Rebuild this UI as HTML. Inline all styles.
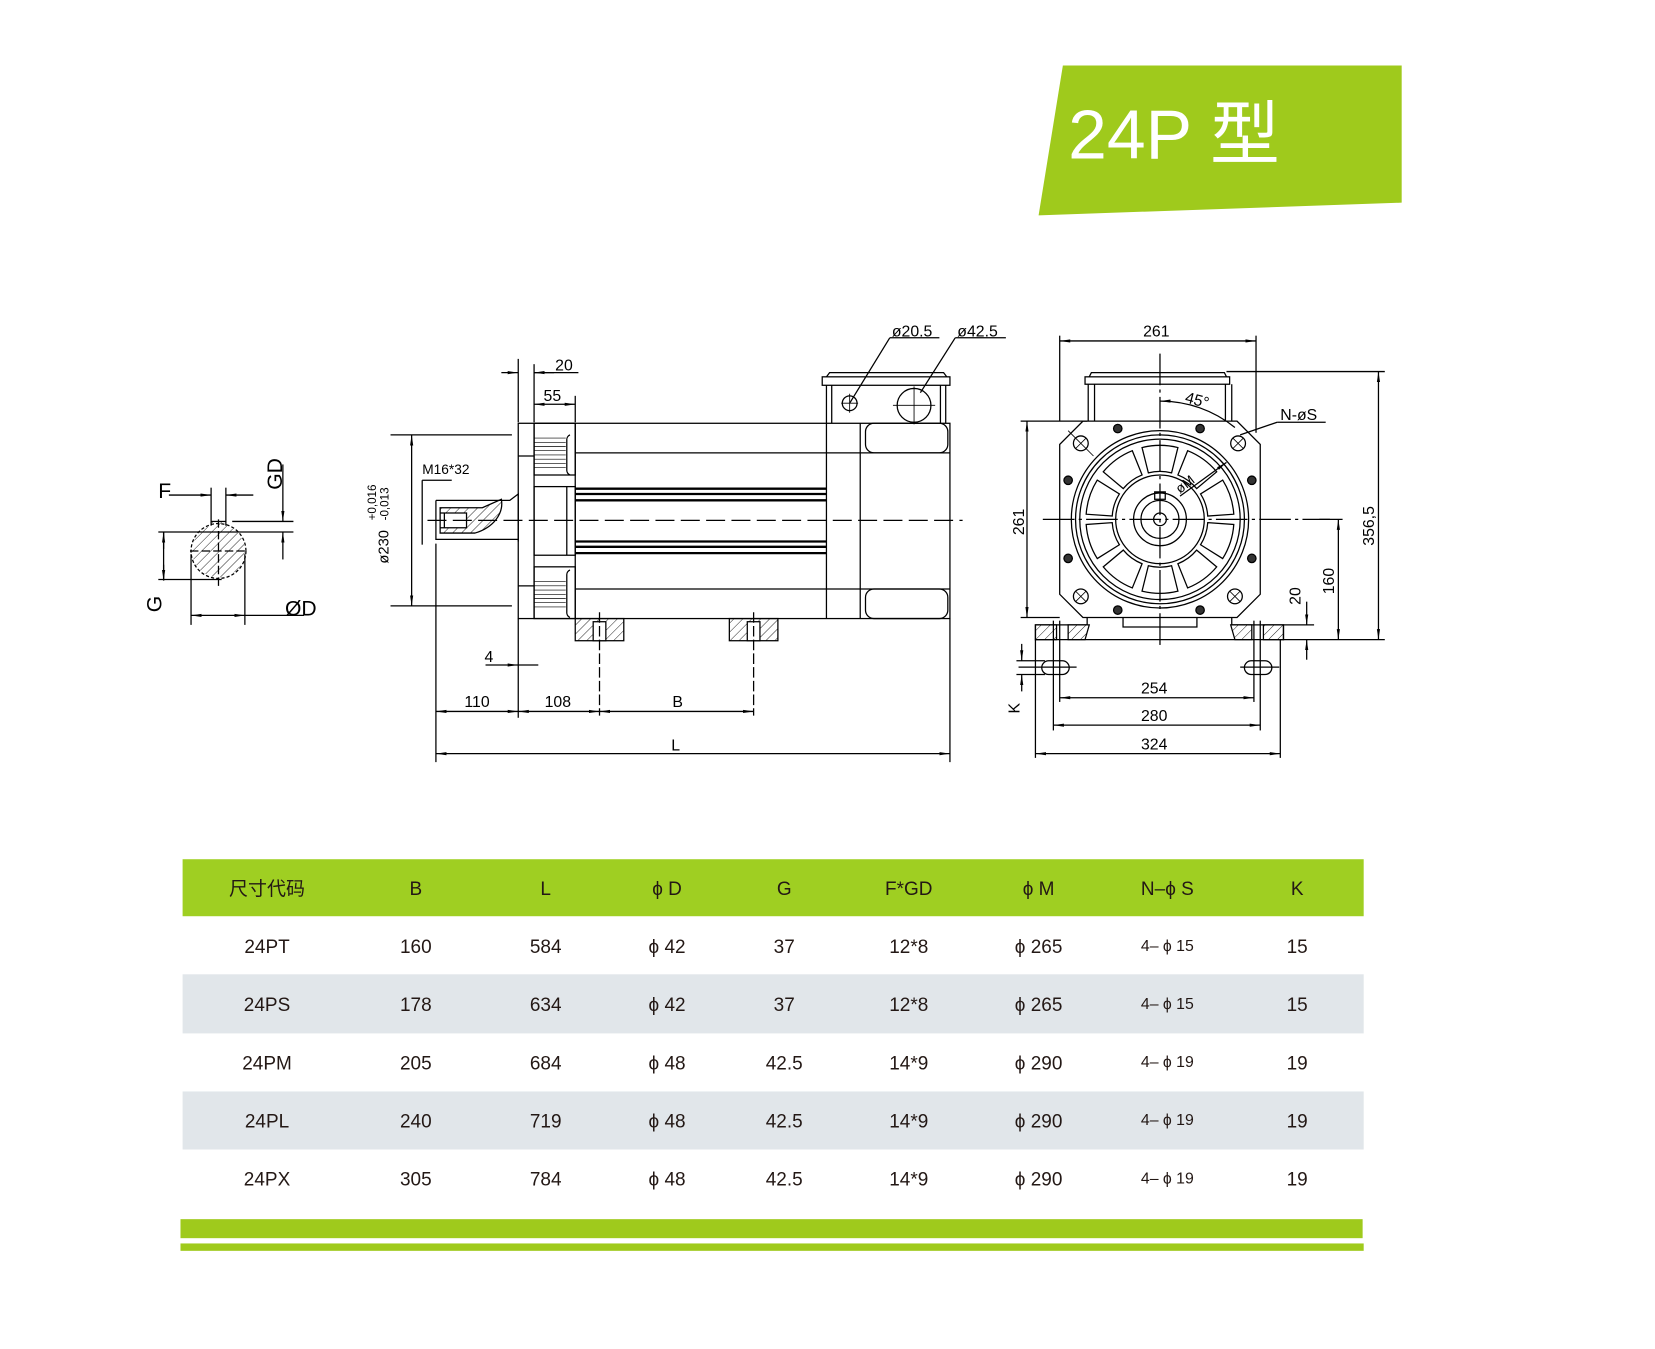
<!DOCTYPE html>
<html><head><meta charset="utf-8"><style>
html,body{margin:0;padding:0;background:#fff;}
svg{display:block;}
text{font-family:"Liberation Sans","Noto Sans CJK SC",sans-serif;}
.d{font-family:"DejaVu Sans Mono","Liberation Mono",monospace;font-size:15px;fill:#000;}
.t{font-size:18px;fill:#231815;text-anchor:middle;}
</style></head><body>
<svg width="1655" height="1349" viewBox="0 0 1568 1278" preserveAspectRatio="none" xmlns="http://www.w3.org/2000/svg">
<defs>
<pattern id="h" width="6" height="6" patternUnits="userSpaceOnUse" patternTransform="rotate(45)"><line x1="0" y1="0" x2="0" y2="6" stroke="#000" stroke-width="0.8"/></pattern>
<marker id="a" viewBox="0 0 10 4" refX="10" refY="2" markerWidth="10" markerHeight="4" orient="auto-start-reverse" markerUnits="userSpaceOnUse"><path d="M0,0.5 L10,2 L0,3.5z" fill="#000"/></marker>
</defs>
<rect width="1568" height="1278" fill="#fff"/>
<!-- title -->
<polygon points="1007,62 1328,62 1328,192 984,204" fill="#9fca1c"/>
<text x="1012" y="150" font-size="66" fill="#fff" font-family="'DejaVu Sans','Liberation Sans','Noto Sans CJK SC',sans-serif">24P 型</text>

<g fill="none" stroke="#000" stroke-width="1.2">
<!-- ===== left shaft section ===== -->
<circle cx="207" cy="522" r="26" stroke-dasharray="3,2"/>
<path d="M182,522 A25,25 0 0 0 232,522 A25,25 0 0 0 214,498 L214,494 L200,494 L200,498 A25,25 0 0 0 182,522z" fill="url(#h)" stroke="none"/>
<line x1="200" y1="462" x2="200" y2="498"/><line x1="214" y1="462" x2="214" y2="498"/>
<line x1="200" y1="494" x2="214" y2="494"/>
<line x1="160" y1="469" x2="200" y2="469" marker-end="url(#a)"/><line x1="240" y1="469" x2="214" y2="469" marker-end="url(#a)"/>
<line x1="220" y1="494" x2="278" y2="494"/><line x1="150" y1="504" x2="278" y2="504"/>
<line x1="268" y1="440" x2="268" y2="494" marker-end="url(#a)"/><line x1="268" y1="530" x2="268" y2="504" marker-end="url(#a)"/>
<line x1="155" y1="504" x2="155" y2="550"/><line x1="155" y1="504" x2="155" y2="520" marker-start="url(#a)"/><line x1="155" y1="535" x2="155" y2="550" marker-end="url(#a)"/>
<line x1="150" y1="549" x2="210" y2="549"/>
<line x1="180" y1="522" x2="235" y2="522" stroke-dasharray="8,3"/><line x1="207" y1="492" x2="207" y2="555" stroke-dasharray="8,3"/>
<line x1="181" y1="525" x2="181" y2="592"/><line x1="232" y1="525" x2="232" y2="592"/>
<line x1="181" y1="583" x2="232" y2="583" marker-start="url(#a)" marker-end="url(#a)"/><line x1="232" y1="583" x2="288" y2="583"/>

<!-- ===== side view ===== -->
<rect x="491" y="401" width="409" height="185"/>
<line x1="506" y1="401" x2="506" y2="586"/><line x1="545" y1="401" x2="545" y2="586"/>
<line x1="783" y1="401" x2="783" y2="586"/><line x1="815" y1="401" x2="815" y2="586"/>
<line x1="491" y1="432" x2="506" y2="432"/><line x1="491" y1="555" x2="506" y2="555"/>
<line x1="545" y1="429" x2="900" y2="429"/><line x1="545" y1="558" x2="900" y2="558"/>
<rect x="506" y="461" width="39" height="65"/>
<line x1="537" y1="461" x2="537" y2="526"/>
<rect x="506" y="401" width="39" height="49"/><rect x="506" y="537" width="39" height="49"/>
<path d="M506,415 h30 M506,419h30 M506,423h30 M506,427h30 M506,431h30 M506,435h30 M506,439h30 M506,443h30 M506,551h30 M506,555h30 M506,559h30 M506,563h30 M506,567h30 M506,571h30 M506,575h30" stroke-width="0.6"/>
<path d="M540,412 a5,5 0 0 0 -3,5 v28 a5,5 0 0 0 3,5 M540,540 a5,5 0 0 0 -3,5 v35 a5,5 0 0 0 3,5"/>
<g stroke-width="2.2"><line x1="545" y1="463" x2="783" y2="463"/><line x1="545" y1="468" x2="783" y2="468"/><line x1="545" y1="474" x2="783" y2="474"/><line x1="545" y1="513" x2="783" y2="513"/><line x1="545" y1="518" x2="783" y2="518"/><line x1="545" y1="524" x2="783" y2="524"/></g>
<rect x="820" y="401" width="78" height="28" rx="8"/><rect x="820" y="558" width="78" height="28" rx="8"/>
<!-- terminal box -->
<rect x="779" y="357" width="121" height="8"/><path d="M783,357 l3,-4 h108 l3,4"/>
<line x1="783" y1="365" x2="783" y2="401"/><line x1="788" y1="365" x2="788" y2="401"/>
<line x1="891" y1="365" x2="891" y2="401"/><line x1="896" y1="365" x2="896" y2="401"/>
<circle cx="805" cy="382" r="7"/><path d="M797,382h16M805,373v18" stroke-width="0.8"/>
<circle cx="866" cy="384" r="16"/><path d="M846,384h40M866,366v36" stroke-width="0.8"/>
<!-- shaft -->
<path d="M413,474 h70 l8,-6 v45 M413,474 v37 h78"/>
<path d="M417,481 h40 l18,-8 a40,30 0 0 1 -25,32 h-33z" fill="url(#h)"/>
<rect x="417" y="486" width="25" height="14" fill="#fff"/>
<line x1="421" y1="486" x2="421" y2="500"/>
<line x1="400" y1="455" x2="428" y2="455"/><line x1="400" y1="455" x2="400" y2="516"/>
<line x1="405" y1="493" x2="912" y2="493" stroke-dasharray="18,6"/>
<!-- feet -->
<rect x="545" y="586" width="46" height="21" fill="url(#h)"/><rect x="691" y="586" width="46" height="21" fill="url(#h)"/>
<rect x="562" y="589" width="12" height="18" fill="#fff"/><rect x="708" y="589" width="12" height="18" fill="#fff"/>
<line x1="568" y1="580" x2="568" y2="678" stroke-dasharray="10,3"/><line x1="714" y1="580" x2="714" y2="678" stroke-dasharray="10,3"/>
<!-- dims -->
<line x1="491" y1="340" x2="491" y2="400"/><line x1="506" y1="345" x2="506" y2="400"/><line x1="545" y1="375" x2="545" y2="400"/>
<line x1="475" y1="353" x2="491" y2="353" marker-end="url(#a)"/><line x1="525" y1="353" x2="506" y2="353" marker-end="url(#a)"/><line x1="506" y1="353" x2="548" y2="353"/>
<line x1="506" y1="383" x2="545" y2="383" marker-start="url(#a)" marker-end="url(#a)"/>
<line x1="370" y1="412" x2="485" y2="412"/><line x1="370" y1="574" x2="485" y2="574"/>
<line x1="390" y1="412" x2="390" y2="574" marker-start="url(#a)" marker-end="url(#a)"/>
<line x1="413" y1="515" x2="413" y2="722"/><line x1="491" y1="586" x2="491" y2="680"/><line x1="900" y1="586" x2="900" y2="722"/>
<line x1="460" y1="630" x2="491" y2="630" marker-end="url(#a)"/><line x1="510" y1="630" x2="491" y2="630"/>
<line x1="413" y1="674" x2="491" y2="674" marker-start="url(#a)" marker-end="url(#a)"/>
<line x1="491" y1="674" x2="568" y2="674" marker-start="url(#a)" marker-end="url(#a)"/>
<line x1="568" y1="674" x2="714" y2="674" marker-start="url(#a)" marker-end="url(#a)"/>
<line x1="413" y1="714" x2="900" y2="714" marker-start="url(#a)" marker-end="url(#a)"/>
<line x1="805" y1="382" x2="843" y2="320"/><line x1="843" y1="320" x2="890" y2="320"/>
<line x1="872" y1="372" x2="905" y2="320"/><line x1="905" y1="320" x2="953" y2="320"/>

<!-- ===== front view ===== -->
<path d="M1026,399 H1172 L1194,421 V563 L1172,585 H1026 L1004,563 V421z"/>
<rect x="1028" y="357" width="137" height="7"/><path d="M1032,357 l2,-4 h126 l2,4"/>
<line x1="1031" y1="364" x2="1031" y2="399"/><line x1="1037" y1="364" x2="1037" y2="399"/>
<line x1="1161" y1="364" x2="1161" y2="399"/><line x1="1167" y1="364" x2="1167" y2="399"/>
<circle cx="1099" cy="492" r="84"/><circle cx="1099" cy="492" r="80"/><circle cx="1099" cy="492" r="76"/>
<circle cx="1099" cy="492" r="42"/><circle cx="1099" cy="492" r="25"/><circle cx="1099" cy="492" r="18"/><circle cx="1099" cy="492" r="6"/>
<rect x="1094" y="466" width="10" height="7"/>
<g id="sl"><path d="M1088,448 L1082,424 A70,70 0 0 1 1116,424 L1110,448 A44,44 0 0 0 1088,448z"/></g>
<use href="#sl" transform="rotate(36 1099 492)"/><use href="#sl" transform="rotate(72 1099 492)"/><use href="#sl" transform="rotate(108 1099 492)"/><use href="#sl" transform="rotate(144 1099 492)"/><use href="#sl" transform="rotate(180 1099 492)"/><use href="#sl" transform="rotate(216 1099 492)"/><use href="#sl" transform="rotate(252 1099 492)"/><use href="#sl" transform="rotate(288 1099 492)"/><use href="#sl" transform="rotate(324 1099 492)"/>
<g fill="#333"><circle cx="1059" cy="406" r="4"/><circle cx="1137" cy="406" r="4"/><circle cx="1012" cy="455" r="4"/><circle cx="1186" cy="455" r="4"/><circle cx="1012" cy="529" r="4"/><circle cx="1186" cy="529" r="4"/><circle cx="1059" cy="578" r="4"/><circle cx="1137" cy="578" r="4"/></g>
<g id="bh"><circle cx="1024" cy="420" r="7"/><path d="M1019,415 l10,10 M1029,415 l-10,10 M1012,408 l24,24" stroke-width="0.8"/></g>
<circle cx="1173" cy="420" r="7"/><path d="M1168,415 l10,10 M1178,415 l-10,10" stroke-width="0.8"/>
<circle cx="1024" cy="565" r="7"/><path d="M1019,560 l10,10 M1029,560 l-10,10" stroke-width="0.8"/>
<circle cx="1170" cy="565" r="7"/><path d="M1165,560 l10,10 M1175,560 l-10,10" stroke-width="0.8"/>
<!-- base -->
<path d="M1030,585 v7 h-49 v14 h235 v-14 h-49 v-7"/>
<path d="M1064,585 v9 h70 v-9"/>
<rect x="981" y="592" width="20" height="14" fill="url(#h)"/><rect x="1197" y="592" width="19" height="14" fill="url(#h)"/>
<path d="M1012,592 h20 l-4,14 h-16z" fill="url(#h)"/><path d="M1186,592 h-20 l4,14 h16z" fill="url(#h)"/>
<line x1="998" y1="588" x2="998" y2="692"/><line x1="1004" y1="588" x2="1004" y2="665"/>
<line x1="1194" y1="588" x2="1194" y2="692"/><line x1="1188" y1="588" x2="1188" y2="665"/>
<rect x="987" y="626" width="26" height="13" rx="6.5"/><rect x="1179" y="626" width="26" height="13" rx="6.5"/>
<line x1="965" y1="632" x2="1020" y2="632"/><line x1="1175" y1="632" x2="1212" y2="632"/>
<line x1="1099" y1="335" x2="1099" y2="615" stroke-dasharray="30,4,3,4"/>
<line x1="988" y1="492" x2="1260" y2="492" stroke-dasharray="30,4,3,4"/>
<!-- front dims -->
<line x1="1004" y1="318" x2="1004" y2="399"/><line x1="1190" y1="318" x2="1190" y2="410"/>
<line x1="1004" y1="323" x2="1190" y2="323" marker-start="url(#a)" marker-end="url(#a)"/>
<line x1="967" y1="399" x2="1030" y2="399"/><line x1="967" y1="585" x2="1004" y2="585"/>
<line x1="973" y1="399" x2="973" y2="585" marker-start="url(#a)" marker-end="url(#a)"/>
<line x1="1162" y1="352" x2="1312" y2="352"/><line x1="1216" y1="606" x2="1312" y2="606"/>
<line x1="1306" y1="352" x2="1306" y2="606" marker-start="url(#a)" marker-end="url(#a)"/>
<line x1="1250" y1="492" x2="1272" y2="492"/>
<line x1="1268" y1="492" x2="1268" y2="606" marker-start="url(#a)" marker-end="url(#a)"/>
<line x1="1216" y1="592" x2="1245" y2="592"/>
<line x1="1238" y1="570" x2="1238" y2="592" marker-end="url(#a)"/><line x1="1238" y1="625" x2="1238" y2="606" marker-end="url(#a)"/>
<line x1="968" y1="610" x2="968" y2="626" marker-end="url(#a)"/><line x1="968" y1="655" x2="968" y2="639" marker-end="url(#a)"/>
<line x1="963" y1="626" x2="990" y2="626"/><line x1="963" y1="639" x2="990" y2="639"/>
<line x1="1004" y1="661" x2="1188" y2="661" marker-start="url(#a)" marker-end="url(#a)"/>
<line x1="998" y1="687" x2="1194" y2="687" marker-start="url(#a)" marker-end="url(#a)"/>
<line x1="981" y1="606" x2="981" y2="718"/><line x1="1213" y1="606" x2="1213" y2="718"/>
<line x1="981" y1="714" x2="1213" y2="714" marker-start="url(#a)" marker-end="url(#a)"/>
<path d="M1099,380 A112,112 0 0 1 1170,405" marker-start="url(#a)"/>
<line x1="1175" y1="412" x2="1210" y2="400"/><line x1="1210" y1="400" x2="1256" y2="400"/>
<line x1="1118" y1="470" x2="1162" y2="438" marker-end="url(#a)"/>
</g>
<!-- drawing labels -->
<g class="d">
<text x="150" y="472" font-size="20">F</text>
<text x="270" y="583" font-size="20">ØD</text>
<text transform="translate(267,464) rotate(-90)" font-size="20">GD</text>
<text transform="translate(153,580) rotate(-90)" font-size="20">G</text>
<text x="526" y="351">20</text><text x="515" y="380">55</text>
<text x="400" y="449" font-size="13" font-family="Liberation Sans,sans-serif">M16*32</text>
<text transform="translate(368,534) rotate(-90)" font-size="14">ø230</text>
<text transform="translate(356,493) rotate(-90)" font-size="11">+0,016</text>
<text transform="translate(368,493) rotate(-90)" font-size="11">-0,013</text>
<text x="459" y="627">4</text>
<text x="440" y="670">110</text><text x="516" y="670">108</text><text x="637" y="670">B</text>
<text x="636" y="711">L</text>
<text x="845" y="319">ø20.5</text><text x="907" y="319">ø42.5</text>
<text x="1083" y="319">261</text>
<text x="1122" y="381" transform="rotate(15 1122 381)">45°</text>
<text x="1213" y="398">N-øS</text>
<text x="1118" y="468" font-size="13" transform="rotate(-38 1118 468)">øM</text>
<text transform="translate(970,507) rotate(-90)">261</text>
<text transform="translate(1302,517) rotate(-90)">356,5</text>
<text transform="translate(1264,563) rotate(-90)">160</text>
<text transform="translate(1232,573) rotate(-90)">20</text>
<text transform="translate(966,676) rotate(-90)">K</text>
<text x="1081" y="657">254</text><text x="1081" y="683">280</text><text x="1081" y="710">324</text>
</g>
<!-- table -->
<rect x="173" y="814" width="1119" height="54" fill="#9fcf22"/>
<rect x="173" y="923" width="1119" height="56" fill="#e1e6ea"/>
<rect x="173" y="1034" width="1119" height="55" fill="#e1e6ea"/>
<rect x="171" y="1155" width="1120" height="18" fill="#9fca1c"/>
<rect x="171" y="1178" width="1121" height="7" fill="#9fca1c"/>
<g class="t">
<text x="253" y="848">尺寸代码</text><text x="394" y="848">B</text><text x="517" y="848">L</text><text x="632" y="848">ϕ D</text><text x="743" y="848">G</text><text x="861" y="848">F*GD</text><text x="984" y="848">ϕ M</text><text x="1106" y="848">N–ϕ S</text><text x="1229" y="848">K</text>
<text x="253" y="903">24PT</text><text x="394" y="903">160</text><text x="517" y="903">584</text><text x="632" y="903">ϕ 42</text><text x="743" y="903">37</text><text x="861" y="903">12*8</text><text x="984" y="903">ϕ 265</text><text x="1106" y="901" font-size="15">4– ϕ 15</text><text x="1229" y="903">15</text>
<text x="253" y="958">24PS</text><text x="394" y="958">178</text><text x="517" y="958">634</text><text x="632" y="958">ϕ 42</text><text x="743" y="958">37</text><text x="861" y="958">12*8</text><text x="984" y="958">ϕ 265</text><text x="1106" y="956" font-size="15">4– ϕ 15</text><text x="1229" y="958">15</text>
<text x="253" y="1013">24PM</text><text x="394" y="1013">205</text><text x="517" y="1013">684</text><text x="632" y="1013">ϕ 48</text><text x="743" y="1013">42.5</text><text x="861" y="1013">14*9</text><text x="984" y="1013">ϕ 290</text><text x="1106" y="1011" font-size="15">4– ϕ 19</text><text x="1229" y="1013">19</text>
<text x="253" y="1068">24PL</text><text x="394" y="1068">240</text><text x="517" y="1068">719</text><text x="632" y="1068">ϕ 48</text><text x="743" y="1068">42.5</text><text x="861" y="1068">14*9</text><text x="984" y="1068">ϕ 290</text><text x="1106" y="1066" font-size="15">4– ϕ 19</text><text x="1229" y="1068">19</text>
<text x="253" y="1123">24PX</text><text x="394" y="1123">305</text><text x="517" y="1123">784</text><text x="632" y="1123">ϕ 48</text><text x="743" y="1123">42.5</text><text x="861" y="1123">14*9</text><text x="984" y="1123">ϕ 290</text><text x="1106" y="1121" font-size="15">4– ϕ 19</text><text x="1229" y="1123">19</text>
</g>
</svg>
</body></html>
